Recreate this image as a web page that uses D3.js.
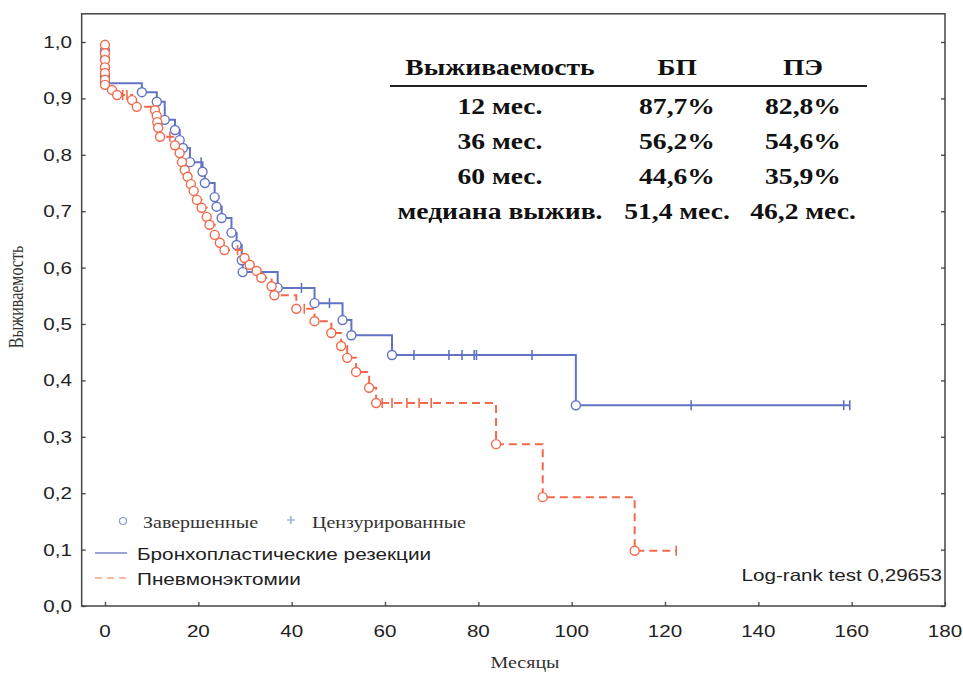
<!DOCTYPE html>
<html>
<head>
<meta charset="utf-8">
<script src="https://cdn.jsdelivr.net/npm/d3@7"></script>
<style>
  body { margin: 0; background: #fff; }
  svg { display: block; }
</style>
</head>
<body>
<div id="plot"></div>
<script>
// kaplan-meier: bronchoplastic resections (БП)
const bpTimes = [0, 0, 0, 0, 0, 7.9, 11.1, 12.8, 15.0, 16.0, 16.7, 18.2, 20.9, 21.4, 23.5, 23.9, 25.0, 27.1, 28.2, 29.3, 29.5, 37.0, 44.9, 50.9, 52.8, 61.5, 100.9];
const bpSurv = [0.985, 0.97, 0.955, 0.94, 0.927, 0.911, 0.894, 0.862, 0.844, 0.826, 0.812, 0.787, 0.770, 0.750, 0.725, 0.708, 0.688, 0.662, 0.640, 0.613, 0.592, 0.564, 0.537, 0.507, 0.480, 0.445, 0.356];
const bpCensored = [20.6, 42.1, 48.1, 66.2, 73.7, 76.5, 79.1, 79.6, 91.5, 125.6, 158.3, 159.6];

// kaplan-meier: pneumonectomies (ПЭ)
const peTimes = [0, 0, 0, 0, 0, 0, 0, 1.5, 2.6, 5.8, 6.8, 10.7, 11.1, 11.2, 11.4, 11.8, 15.0, 16.0, 16.5, 17.1, 17.7, 18.4, 19.0, 19.7, 20.7, 21.8, 22.4, 23.5, 24.6, 25.6, 29.9, 31.0, 32.5, 33.5, 35.7, 36.3, 41.0, 44.9, 48.5, 50.6, 51.9, 53.8, 56.6, 58.1, 83.8, 93.8, 113.5];
const peSurv = [0.995, 0.98, 0.968, 0.955, 0.945, 0.933, 0.924, 0.915, 0.906, 0.897, 0.885, 0.879, 0.869, 0.858, 0.848, 0.832, 0.817, 0.803, 0.787, 0.773, 0.761, 0.748, 0.736, 0.720, 0.706, 0.690, 0.676, 0.658, 0.644, 0.631, 0.617, 0.605, 0.594, 0.582, 0.567, 0.551, 0.527, 0.505, 0.484, 0.461, 0.440, 0.415, 0.387, 0.360, 0.287, 0.193, 0.098];
const peCensored = [3.8, 4.7, 13.9, 28.4, 42.7, 59.4, 61.5, 64.7, 67.3, 69.9, 122.4];

// axes
const xTicks = [0, 20, 40, 60, 80, 100, 120, 140, 160, 180];
const yTicks = [0, 0.1, 0.2, 0.3, 0.4, 0.5, 0.6, 0.7, 0.8, 0.9, 1.0];

// summary table
const tableHead = ['Выживаемость', 'БП', 'ПЭ'];
const tableRowNames = ['12 мес.', '36 мес.', '60 мес.', 'медиана выжив.'];
const tableBP = ['87,7%', '56,2%', '44,6%', '51,4 мес.'];
const tablePE = ['82,8%', '54,6%', '35,9%', '46,2 мес.'];

const legendMarks = ['Завершенные', 'Цензурированные'];
const seriesNames = ['Бронхопластические резекции', 'Пневмонэктомии'];
const logRank = 'Log-rank test 0,29653';

const blue = '#6373c3';
const red = '#f2694c';
const stretch = 1.25; // the original picture is a bit wide
const sans = '"Liberation Sans", Arial, sans-serif';
const serif = '"Liberation Serif", "Times New Roman", serif';

const width = 963;
const height = 673;

const svg = d3.select('#plot')
  .append('svg')
  .attr('width', width)
  .attr('height', height)
  .attr('xmlns', 'http://www.w3.org/2000/svg');

const x = d3.scaleLinear().domain([0, 180]).range([105, 945]);
const y = d3.scaleLinear().domain([0, 1]).range([606, 42]);

// text with the horizontal stretch of the source
const label = (g, tx, ty, txt, o = {}) => g.append('text')
  .attr('transform', `translate(${tx},${ty}) scale(${o.sx || stretch},1)`)
  .attr('text-anchor', o.anchor || 'start')
  .attr('dy', o.dy || null)
  .attr('fill', o.fill || '#222')
  .style('font-family', o.font || sans)
  .style('font-size', `${o.size || 16}px`)
  .style('font-weight', o.weight || 'normal')
  .text(txt);

// frame
const frameLeft = x(-5);
const frameTop = y(1.05);
svg.append('rect')
  .attr('x', frameLeft)
  .attr('y', frameTop)
  .attr('width', x(180) - frameLeft)
  .attr('height', y(0) - frameTop)
  .attr('fill', 'none')
  .attr('stroke', '#444')
  .attr('stroke-width', 1.5);

// inward ticks, labels drawn separately
const tickStyle = (g) => {
  g.select('.domain').remove();
  g.selectAll('line').attr('stroke', '#444').attr('stroke-width', 1.3);
};
svg.append('g')
  .attr('transform', `translate(${frameLeft},0)`)
  .call(d3.axisLeft(y).tickValues(yTicks).tickSizeInner(-4).tickFormat(''))
  .call(tickStyle);
svg.append('g')
  .attr('transform', `translate(${x(180)},0)`)
  .call(d3.axisRight(y).tickValues(yTicks).tickSizeInner(-4).tickFormat(''))
  .call(tickStyle);
svg.append('g')
  .attr('transform', `translate(0,${y(0)})`)
  .call(d3.axisBottom(x).tickValues(xTicks).tickSizeInner(-4).tickFormat(''))
  .call(tickStyle);

yTicks.forEach((v) => {
  label(svg, 72, y(v), v.toFixed(1).replace('.', ','), { anchor: 'end', dy: '0.36em', size: 16.5 });
});
xTicks.forEach((v) => {
  label(svg, x(v), 637, String(v), { anchor: 'middle', size: 16.5 });
});

// axis titles
svg.append('text')
  .attr('transform', `translate(23,297) rotate(-90) scale(1,${stretch})`)
  .attr('text-anchor', 'middle')
  .attr('fill', '#333')
  .style('font-family', serif)
  .style('font-size', '16px')
  .text('Выживаемость');
label(svg, 525, 668, 'Месяцы', { anchor: 'middle', font: serif, size: 16, fill: '#333' });

// survival at a given time
const survAt = (times, surv, t) => {
  let s = 1;
  times.forEach((et, i) => {
    if (et <= t) s = surv[i];
  });
  return s;
};

const drawCurve = (times, surv, censored, color, dash) => {
  const g = svg.append('g');
  const pts = [[0, 1]];
  let prev = 1;
  times.forEach((t, i) => {
    pts.push([t, prev]);
    pts.push([t, surv[i]]);
    prev = surv[i];
  });
  pts.push([d3.max(censored.concat(times)), prev]);

  g.append('path')
    .attr('d', d3.line().x((d) => x(d[0])).y((d) => y(d[1]))(pts))
    .attr('fill', 'none')
    .attr('stroke', color)
    .attr('stroke-width', 2)
    .attr('stroke-dasharray', dash);

  // censored: short vertical ticks on the line
  censored.forEach((t) => {
    const s = survAt(times, surv, t);
    g.append('line')
      .attr('x1', x(t))
      .attr('x2', x(t))
      .attr('y1', y(s) - 5)
      .attr('y2', y(s) + 5)
      .attr('stroke', color)
      .attr('stroke-width', 1.6);
  });

  // completed: open circles
  g.selectAll('circle')
    .data(times.map((t, i) => [t, surv[i]]))
    .enter()
    .append('circle')
    .attr('cx', (d) => x(d[0]))
    .attr('cy', (d) => y(d[1]))
    .attr('r', 4.5)
    .attr('fill', '#fff')
    .attr('stroke', color)
    .attr('stroke-width', 1.4);
};

drawCurve(bpTimes, bpSurv, bpCensored, blue, null);
drawCurve(peTimes, peSurv, peCensored, red, '8,5');

// table
const table = svg.append('g');
const colX = [500, 677, 803];
const rowY = [114, 149, 184, 219];
const cell = { anchor: 'middle', font: serif, size: 23, sx: 1.2, weight: 'bold', fill: '#111' };
tableHead.forEach((h, i) => {
  label(table, colX[i], 75, h, cell);
});
table.append('line')
  .attr('x1', 390)
  .attr('x2', 867)
  .attr('y1', 86)
  .attr('y2', 86)
  .attr('stroke', '#222')
  .attr('stroke-width', 2);
tableRowNames.forEach((r, i) => {
  label(table, colX[0], rowY[i], r, cell);
  label(table, colX[1], rowY[i], tableBP[i], cell);
  label(table, colX[2], rowY[i], tablePE[i], cell);
});

// legend
const legend = svg.append('g');
legend.append('circle')
  .attr('cx', 123)
  .attr('cy', 521)
  .attr('r', 3.5)
  .attr('fill', '#fff')
  .attr('stroke', '#8a96d4')
  .attr('stroke-width', 1.2);
label(legend, 143, 528, legendMarks[0], { font: serif, size: 16, fill: '#333' });
legend.append('path')
  .attr('d', 'M287,520H295M291,516V524')
  .attr('stroke', '#8a96d4')
  .attr('stroke-width', 1.2);
label(legend, 312, 528, legendMarks[1], { font: serif, size: 16, fill: '#333' });

legend.append('line')
  .attr('x1', 95).attr('x2', 127)
  .attr('y1', 553).attr('y2', 553)
  .attr('stroke', blue)
  .attr('stroke-width', 1.3);
label(legend, 137, 560, seriesNames[0], { size: 16.6 });
legend.append('line')
  .attr('x1', 95).attr('x2', 127)
  .attr('y1', 578).attr('y2', 578)
  .attr('stroke', '#f4a085')
  .attr('stroke-width', 1.6)
  .attr('stroke-dasharray', '7,5');
label(legend, 137, 585, seriesNames[1], { size: 16.6 });

label(svg, 942, 581, logRank, { anchor: 'end', size: 16.5 });
</script>
</body>
</html>
